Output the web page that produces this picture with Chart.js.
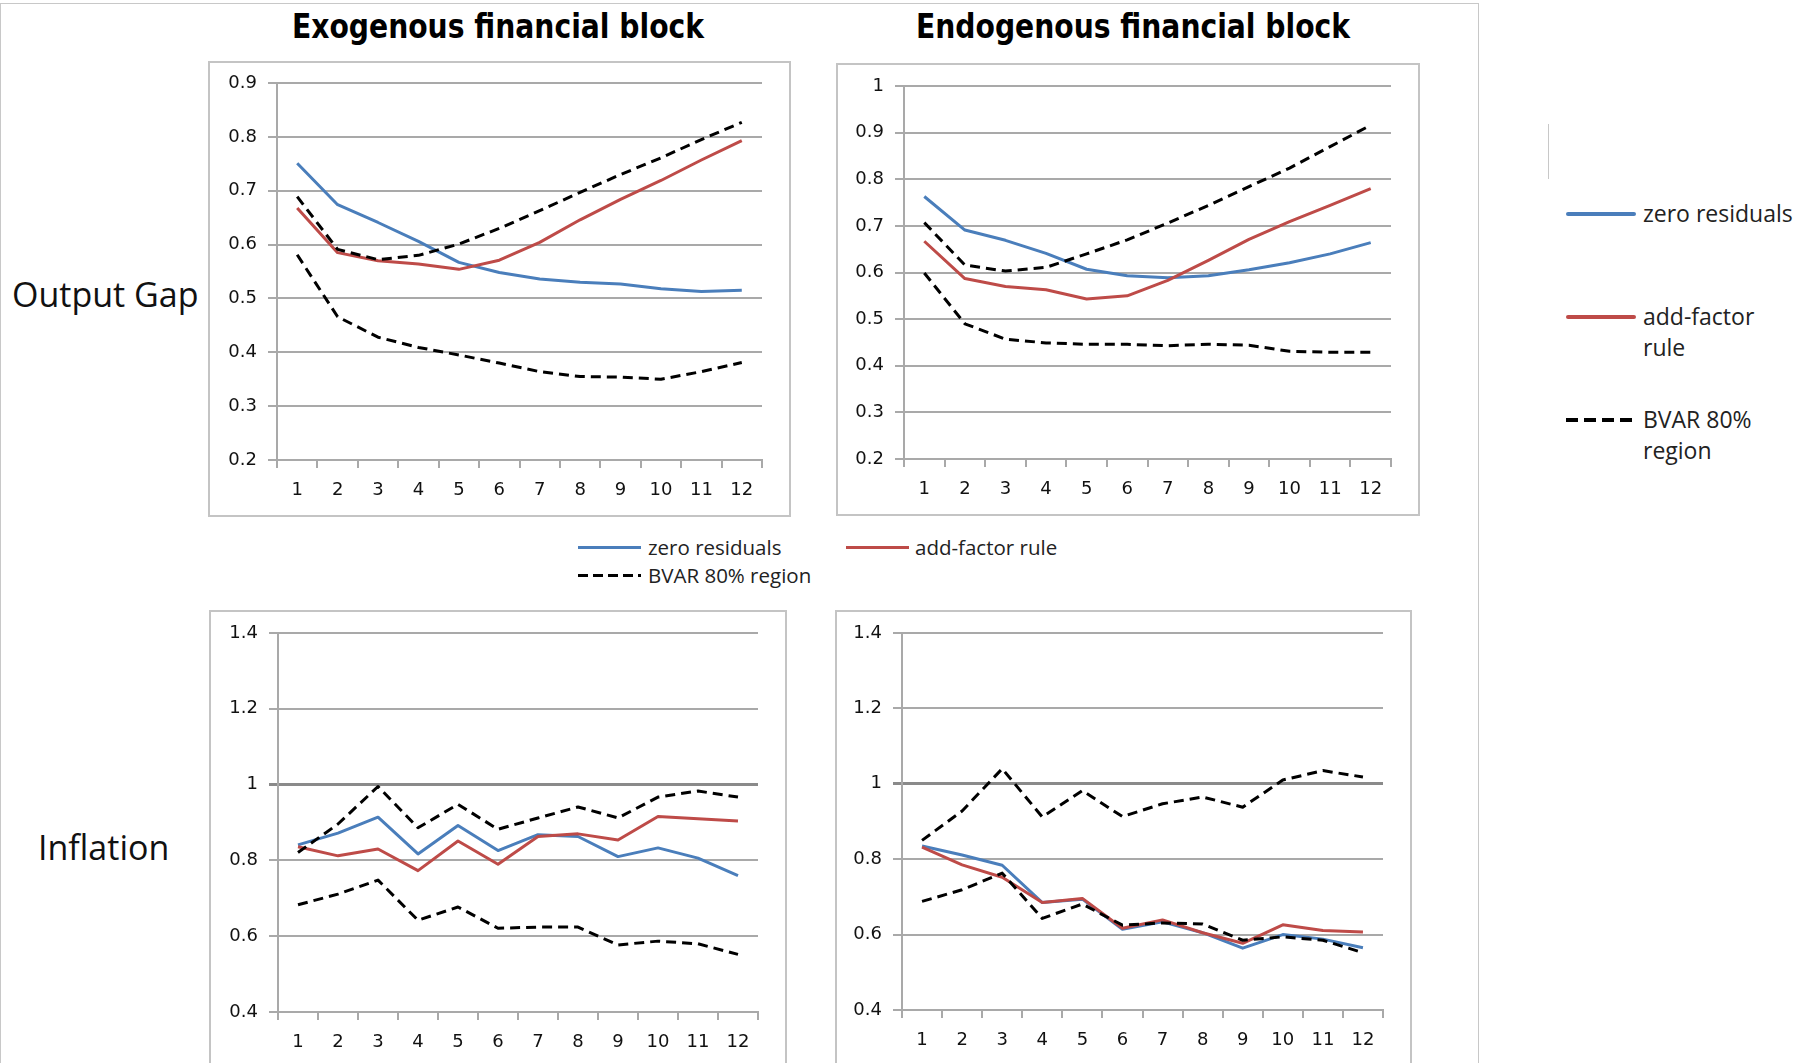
<!DOCTYPE html>
<html><head><meta charset="utf-8">
<script src="https://cdn.jsdelivr.net/npm/chart.js@4.4.1/dist/chart.umd.min.js"></script>
<style>
html,body{margin:0;padding:0;}
body{width:1810px;height:1063px;overflow:hidden;background:#fff;position:relative;font-family:'Open Sans',sans-serif;color:#222;}
.abs{position:absolute;}
.frame{position:absolute;left:0;top:3px;width:1479px;height:1100px;border:1px solid #c8c8c8;border-bottom:none;box-sizing:border-box;}
.box{position:absolute;border:2px solid #c4c4c4;box-sizing:border-box;pointer-events:none;}
.title{position:absolute;font-family:'Liberation Sans Narrow','DejaVu Sans Condensed',sans-serif;font-weight:bold;font-size:33px;color:#000;transform:translate(-50%,-50%) scaleX(0.95);white-space:nowrap;}
.row{position:absolute;font-size:34px;color:#111;transform:translateY(-50%);white-space:nowrap;}
.lg{position:absolute;font-size:20.5px;color:#222;white-space:nowrap;transform:translateY(-50%);}
.lg2{position:absolute;font-size:23px;color:#222;line-height:31px;}
.sw{position:absolute;height:3px;}
.dash{background:repeating-linear-gradient(90deg,#000 0 10px,transparent 10px 15px);}
canvas{position:absolute;}
</style></head><body>
<div class="frame"></div>
<div class="abs" style="left:1548px;top:124px;width:1px;height:55px;background:#c8c8c8"></div>

<div class="title" style="left:498px;top:26px">Exogenous financial block</div>
<div class="title" style="left:1133px;top:26px">Endogenous financial block</div>
<div class="row" style="left:12px;top:294px">Output Gap</div>
<div class="row" style="left:38px;top:847px">Inflation</div>

<canvas id="c1"></canvas><canvas id="c2"></canvas><canvas id="c3"></canvas><canvas id="c4"></canvas>
<div class="box" style="left:208px;top:61px;width:583px;height:456px"></div>
<div class="box" style="left:836px;top:63px;width:584px;height:453px"></div>
<div class="box" style="left:209px;top:610px;width:578px;height:500px"></div>
<div class="box" style="left:835px;top:610px;width:577px;height:500px"></div>

<!-- legend between panels -->
<div class="sw" style="left:578px;top:546px;width:63px;background:#4a7ebb"></div>
<div class="lg" style="left:648px;top:547px">zero residuals</div>
<div class="sw" style="left:846px;top:546px;width:63px;background:#be4b48"></div>
<div class="lg" style="left:915px;top:547px">add-factor rule</div>
<div class="sw dash" style="left:578px;top:574px;width:63px"></div>
<div class="lg" style="left:648px;top:575px">BVAR 80% region</div>

<!-- right legend -->
<div class="sw" style="left:1566px;top:212px;width:70px;height:4px;border-radius:2px;background:#4a7ebb"></div>
<div class="lg2" style="left:1643px;top:198px">zero residuals</div>
<div class="sw" style="left:1566px;top:315px;width:70px;height:4px;border-radius:2px;background:#be4b48"></div>
<div class="lg2" style="left:1643px;top:301px">add-factor<br>rule</div>
<div class="sw" style="left:1566px;top:418px;width:72px;height:4px;background:repeating-linear-gradient(90deg,#000 0 12px,transparent 12px 18px)"></div>
<div class="lg2" style="left:1643px;top:404px">BVAR 80%<br>region</div>

<script>
// ---- data ----
const horizons = ['1','2','3','4','5','6','7','8','9','10','11','12'];

// Output gap, exogenous financial block
const exoGapZero  = [0.751,0.674,0.641,0.606,0.567,0.548,0.536,0.530,0.527,0.518,0.513,0.515];
const exoGapAdd   = [0.668,0.585,0.570,0.564,0.554,0.571,0.604,0.646,0.684,0.719,0.757,0.793];
const exoGapUpper = [0.689,0.591,0.572,0.580,0.601,0.630,0.663,0.697,0.730,0.761,0.795,0.827];
const exoGapLower = [0.581,0.466,0.428,0.409,0.395,0.380,0.364,0.355,0.354,0.350,0.364,0.381];

// Output gap, endogenous financial block
const endoGapZero  = [0.763,0.691,0.669,0.641,0.607,0.593,0.589,0.593,0.606,0.621,0.640,0.664];
const endoGapAdd   = [0.667,0.587,0.570,0.563,0.543,0.550,0.583,0.626,0.671,0.709,0.744,0.780];
const endoGapUpper = [0.707,0.616,0.603,0.611,0.640,0.670,0.706,0.744,0.784,0.824,0.870,0.916];
const endoGapLower = [0.599,0.490,0.457,0.449,0.446,0.446,0.443,0.446,0.444,0.431,0.429,0.429];

// Inflation, exogenous financial block
const exoInfZero  = [0.841,0.872,0.914,0.817,0.892,0.826,0.868,0.863,0.810,0.833,0.806,0.760];
const exoInfAdd   = [0.836,0.812,0.830,0.773,0.851,0.790,0.863,0.870,0.854,0.916,0.910,0.904];
const exoInfUpper = [0.821,0.896,0.995,0.886,0.948,0.882,0.912,0.941,0.912,0.967,0.983,0.967];
const exoInfLower = [0.683,0.711,0.748,0.642,0.677,0.621,0.624,0.624,0.577,0.587,0.580,0.552];

// Inflation, endogenous financial block
const endoInfZero  = [0.835,0.811,0.784,0.685,0.694,0.614,0.634,0.605,0.564,0.600,0.588,0.565];
const endoInfAdd   = [0.832,0.785,0.752,0.685,0.696,0.617,0.639,0.605,0.577,0.626,0.611,0.607];
const endoInfUpper = [0.850,0.928,1.040,0.912,0.982,0.913,0.947,0.965,0.938,1.010,1.035,1.018];
const endoInfLower = [0.688,0.719,0.763,0.643,0.681,0.625,0.631,0.628,0.585,0.594,0.585,0.552];

const seriesNames = ['zero residuals','add-factor rule','BVAR 80% region'];

// ---- drawing ----
const BLUE='#4a7ebb', RED='#be4b48', GRID='#a9a9a9';

function makeChart(id, box, plot, yMin, yMax, step, zero, add, upper, lower){
  const cv = document.getElementById(id);
  cv.width = box.w; cv.height = box.h;
  cv.style.left = box.x + 'px'; cv.style.top = box.y + 'px';
  const xH = 50;
  const yW = plot.l - box.x;
  const line = (label, data, color, dash) => ({
    label, data, borderColor: color, backgroundColor: color, borderWidth: 3,
    borderDash: dash || [], pointRadius: 0, tension: 0, fill: false,
    borderCapStyle: 'butt', borderJoinStyle: 'round'
  });
  new Chart(cv, {
    type: 'line',
    data: {
      labels: horizons,
      datasets: [
        line(seriesNames[2], lower, '#000', [10,6]),
        line(seriesNames[2], upper, '#000', [10,6]),
        line(seriesNames[1], add, RED),
        line(seriesNames[0], zero, BLUE)
      ]
    },
    options: {
      responsive: false, animation: false, devicePixelRatio: 1,
      layout: { padding: { left: 0, top: plot.t - box.y, right: box.x + box.w - plot.r, bottom: box.y + box.h - plot.b - xH } },
      plugins: { legend: { display: false }, tooltip: { enabled: false } },
      scales: {
        x: {
          offset: true,
          afterFit: s => { s.height = xH; },
          grid: { offset: true, drawOnChartArea: false, drawTicks: true, tickLength: 8, color: GRID, lineWidth: 2 },
          border: { display: true, color: GRID, width: 2 },
          ticks: { padding: 12, color: '#111', font: { family: 'DejaVu Sans', size: 18 }, maxRotation: 0, autoSkip: false }
        },
        y: {
          min: yMin, max: yMax,
          afterFit: s => { s.width = yW; },
          grid: {
            drawTicks: true, tickLength: 9,
            color: c => (c.tick && Math.abs(c.tick.value - 1) < 1e-9 && yMax > 1.2) ? '#8a8a8a' : GRID,
            lineWidth: c => (c.tick && Math.abs(c.tick.value - 1) < 1e-9 && yMax > 1.2) ? 3 : 2
          },
          border: { display: true, color: GRID, width: 2 },
          ticks: {
            stepSize: step, padding: 11, color: '#111',
            font: { family: 'DejaVu Sans', size: 18 },
            callback: v => String(Math.round(v * 10) / 10)
          }
        }
      }
    }
  });
}

makeChart('c1', {x:208,y:61,w:583,h:456}, {l:277,t:83,r:762,b:460}, 0.2, 0.9, 0.1, exoGapZero, exoGapAdd, exoGapUpper, exoGapLower);
makeChart('c2', {x:836,y:63,w:584,h:453}, {l:904,t:86,r:1391,b:459}, 0.2, 1.0, 0.1, endoGapZero, endoGapAdd, endoGapUpper, endoGapLower);
makeChart('c3', {x:209,y:610,w:578,h:500}, {l:278,t:633,r:758,b:1012}, 0.4, 1.4, 0.2, exoInfZero, exoInfAdd, exoInfUpper, exoInfLower);
makeChart('c4', {x:835,y:610,w:577,h:500}, {l:902,t:633,r:1383,b:1010}, 0.4, 1.4, 0.2, endoInfZero, endoInfAdd, endoInfUpper, endoInfLower);
</script>
</body></html>
